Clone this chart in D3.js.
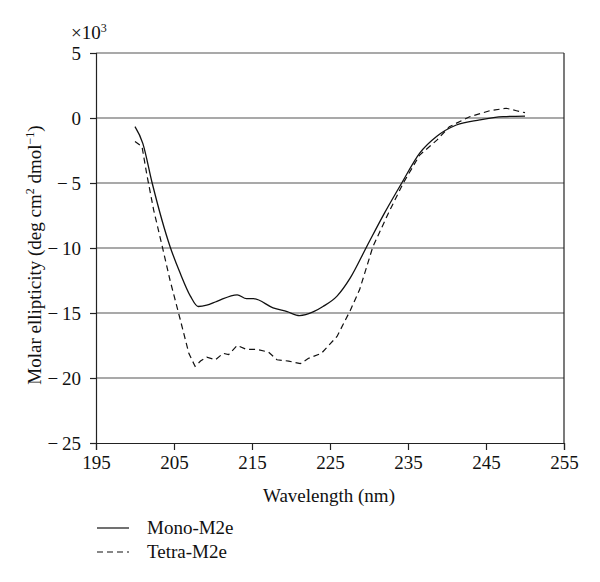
<!DOCTYPE html>
<html>
<head>
<meta charset="utf-8">
<script src="https://cdn.jsdelivr.net/npm/d3@7"></script>
<style>
  body { margin: 0; background: #fff; }
  svg { display: block; }
</style>
</head>
<body>
<svg id="chart" width="600" height="582"></svg>
<script>
// Data (molar ellipticity in units of 10^3 deg cm^2 dmol^-1)
const monoWavelength = [200.0, 201.0, 202.2, 204.5, 205.8, 207.1, 208.1, 209.2, 210.5, 213.1, 214.3, 215.2, 217.7, 219.5, 221.1, 222.9, 224.1, 225.9, 227.6, 229.7, 232.0, 234.2, 236.5, 238.7, 241.2, 244.2, 247.2, 250.0];
const monoValues     = [-0.67, -1.95, -5.0, -9.9, -11.95, -13.7, -14.5, -14.4, -14.1, -13.6, -13.9, -13.9, -14.6, -14.9, -15.2, -14.9, -14.5, -13.7, -12.3, -9.9, -7.3, -5.0, -2.7, -1.4, -0.54, -0.15, 0.1, 0.15];
const tetraWavelength = [200.0, 200.9, 201.5, 202.4, 203.5, 204.5, 205.8, 206.9, 207.7, 208.4, 209.2, 210.3, 211.3, 212.0, 213.1, 214.3, 215.6, 217.1, 218.2, 219.7, 221.2, 222.2, 223.9, 225.9, 227.6, 228.8, 230.5, 232.5, 234.4, 236.5, 238.7, 240.3, 242.9, 245.5, 247.6, 248.9, 250.0];
const tetraValues     = [-1.8, -2.2, -4.3, -7.1, -9.9, -12.5, -15.5, -18.1, -19.1, -18.7, -18.4, -18.6, -18.1, -18.2, -17.5, -17.8, -17.8, -18.0, -18.6, -18.7, -18.9, -18.5, -18.1, -16.8, -14.8, -13.2, -9.9, -7.3, -5.0, -2.85, -1.7, -0.67, 0.1, 0.56, 0.75, 0.56, 0.41];
const xTicks = [195, 205, 215, 225, 235, 245, 255];
const yTicks = [5, 0, -5, -10, -15, -20, -25];
const seriesNames = ["Mono-M2e", "Tetra-M2e"];

const FONT = "'Liberation Serif', 'Times New Roman', Times, serif";
const FS = "19px";
const svg = d3.select("#chart");
const L = 96, R = 564, T = 53, B = 443;
const x = d3.scaleLinear().domain([195, 255]).range([L, R]);
const y = d3.scaleLinear().domain([-25, 5]).range([B, T]);

// gridlines
svg.append("g").selectAll("line").data(yTicks.filter(v => v !== -25)).join("line")
  .attr("x1", L).attr("x2", R)
  .attr("y1", d => y(d)).attr("y2", d => y(d))
  .attr("stroke", "#555").attr("stroke-width", 1.2);

// right border
svg.append("line").attr("x1", R).attr("x2", R).attr("y1", T).attr("y2", B)
  .attr("stroke", "#222").attr("stroke-width", 1.2);

// x axis
const xAxis = svg.append("g").attr("transform", `translate(0,${B})`)
  .call(d3.axisBottom(x).tickValues(xTicks).tickSize(7).tickPadding(6).tickFormat(d3.format("d")));
// y axis
const yAxis = svg.append("g").attr("transform", `translate(${L},0)`)
  .call(d3.axisLeft(y).tickValues(yTicks).tickSize(6).tickPadding(9).tickFormat(d => d < 0 ? "\u2212\u2009" + Math.abs(d) : d));
[xAxis, yAxis].forEach(a => {
  a.attr("font-family", null).attr("font-size", null);
  a.select(".domain").attr("stroke", "#222").attr("stroke-width", 1.2);
  a.selectAll(".tick line").attr("stroke", "#222").attr("stroke-width", 1.2);
  a.selectAll(".tick text").style("font-family", FONT).style("font-size", FS).attr("fill", "#111");
});

function txt(sel) { return sel.append("text").style("font-family", FONT).style("font-size", FS).attr("fill", "#111"); }

// x10^3
const mult = txt(svg).attr("x", 71).attr("y", 39);
mult.append("tspan").text("\u00d710");
mult.append("tspan").attr("dy", -7).style("font-size", "12px").text("3");

// lines
const monoData = monoWavelength.map((w, i) => [w, monoValues[i]]);
const tetraData = tetraWavelength.map((w, i) => [w, tetraValues[i]]);
svg.append("path").datum(monoData)
  .attr("d", d3.line().x(d => x(d[0])).y(d => y(d[1])).curve(d3.curveMonotoneX))
  .attr("fill", "none").attr("stroke", "#111").attr("stroke-width", 1.3);
svg.append("path").datum(tetraData).attr("d", d3.line().x(d => x(d[0])).y(d => y(d[1])))
  .attr("fill", "none").attr("stroke", "#111").attr("stroke-width", 1.2).attr("stroke-dasharray", "6,4");

// axis titles
txt(svg).attr("x", 329).attr("y", 502).attr("text-anchor", "middle").text("Wavelength (nm)");
const yt = txt(svg).attr("transform", "translate(41,255) rotate(-90)").attr("text-anchor", "middle");
yt.append("tspan").text("Molar ellipticity (deg cm");
yt.append("tspan").attr("dy", -7).style("font-size", "12px").text("2");
yt.append("tspan").attr("dy", 7).text(" dmol");
yt.append("tspan").attr("dy", -7).style("font-size", "12px").text("\u22121");
yt.append("tspan").attr("dy", 7).text(")");

// legend
seriesNames.forEach((name, i) => {
  const yy = 528 + i * 24;
  svg.append("line").attr("x1", 97).attr("x2", 129).attr("y1", yy).attr("y2", yy)
    .attr("stroke", "#111").attr("stroke-width", 1.2)
    .attr("stroke-dasharray", i === 1 ? "6,4" : null);
  txt(svg).attr("x", 147).attr("y", yy + 6).text(name);
});
</script>
</body>
</html>
